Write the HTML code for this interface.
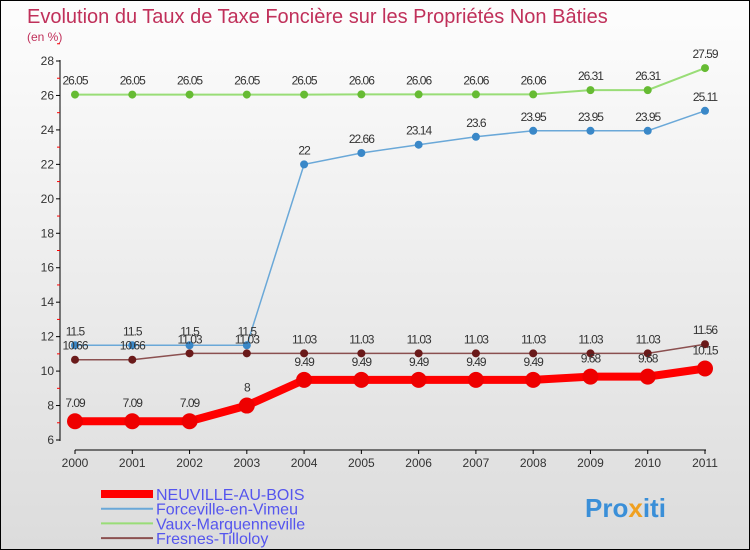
<!DOCTYPE html>
<html><head><meta charset="utf-8"><style>
body{margin:0}
#c{width:748px;height:548px;border:1px solid #000;background:linear-gradient(#fdfdfd,#dcdcdc);position:relative;font-family:"Liberation Sans",sans-serif}
</style></head><body>
<div id="c">
<svg id="s" width="748" height="548" style="position:absolute;left:0;top:0">
<text x="26" y="22" font-size="20" fill="#c0305a">Evolution du Taux de Taxe Foncière sur les Propriétés Non Bâties</text>
<text x="26" y="40" font-size="12" fill="#c0305a">(en %)</text>
<g id="ax"></g><g id="ser"></g><g id="leg"></g>
<text x="584" y="516" font-size="26" font-weight="bold" fill="#3a8fd8">Pro<tspan fill="#f0a020">x</tspan>iti</text>
</svg></div>
<script>
const years=[2000,2001,2002,2003,2004,2005,2006,2007,2008,2009,2010,2011];
const names=["NEUVILLE-AU-BOIS","Forceville-en-Vimeu","Vaux-Marquenneville","Fresnes-Tilloloy"];
const neuville=[7.09,7.09,7.09,8,9.49,9.49,9.49,9.49,9.49,9.68,9.68,10.15];
const forceville=[11.5,11.5,11.5,11.5,22,22.66,23.14,23.6,23.95,23.95,23.95,25.11];
const vaux=[26.05,26.05,26.05,26.05,26.05,26.06,26.06,26.06,26.06,26.31,26.31,27.59];
const fresnes=[10.66,10.66,11.03,11.03,11.03,11.03,11.03,11.03,11.03,11.03,11.03,11.56];
const yTicks=[6,8,10,12,14,16,18,20,22,24,26,28];
const NS="http://www.w3.org/2000/svg";
const X=i=>74+i*(630/11), Y=v=>439-(v-6)*(379/22);
function mk(p,t,a){const e=document.createElementNS(NS,t);for(const k in a)e.setAttribute(k,a[k]);p.appendChild(e);return e;}
const ax=document.getElementById('ax');
let l=mk(ax,'line',{x1:59,y1:59,x2:59,y2:440,stroke:'#000'});


l=mk(ax,'line',{x1:74,y1:449,x2:705,y2:449,stroke:'#000'});


yTicks.forEach(v=>{mk(ax,'line',{x1:55,x2:59,y1:Y(v),y2:Y(v),stroke:'#000'});
 mk(ax,'line',{x1:56,x2:59,y1:Y(v+1),y2:Y(v+1),stroke:'red'});
 const t=mk(ax,'text',{x:53,y:Y(v)+4,'font-size':12,'text-anchor':'end',fill:'#333'});t.textContent=v;
 
 });
years.forEach((y,i)=>{mk(ax,'line',{x1:X(i),x2:X(i),y1:449,y2:453,stroke:'#000'});
 const t=mk(ax,'text',{x:X(i),y:466,'font-size':12,'text-anchor':'middle',fill:'#333'});t.textContent=y;
 
 });
const ser=document.getElementById('ser');
const series=[[vaux,'#99dd77','#66bb33',2,4],[forceville,'#6aa8d8','#3a88c8',1.5,4],[fresnes,'#8b5050','#6a1a1a',1.5,4],[neuville,'#ff0000','#ee0000',8,8]];
series.forEach(([d,c,mc,w,r],si)=>{
 const g=mk(ser,'g',{});
 
 
 mk(g,'polyline',{points:d.map((v,i)=>X(i)+','+Y(v)).join(' '),fill:'none',stroke:c,'stroke-width':w});
 d.forEach((v,i)=>{const p=mk(g,'circle',{cx:X(i),cy:Y(v),r:r,fill:mc});
  
  
  const t=mk(g,'text',{x:X(i),y:Y(v)-(r+6),'font-size':12,'text-anchor':'middle',fill:'#333','letter-spacing':'-1'});t.textContent=v;
  
  });
});
const leg=document.getElementById('leg');
const lc=['#ff0000','#6aa8d8','#99dd77','#8b5050'],lw=[8,2,2,2];
names.forEach((n,i)=>{const y=493+i*14.7;const g=mk(leg,'g',{});
 
 
 mk(g,'line',{x1:100,x2:152,y1:y,y2:y,stroke:lc[i],'stroke-width':lw[i]});
 const t=mk(g,'text',{x:155,y:y+6,'font-size':16,fill:'#5555ee'});t.textContent=n;});
</script></body></html>
